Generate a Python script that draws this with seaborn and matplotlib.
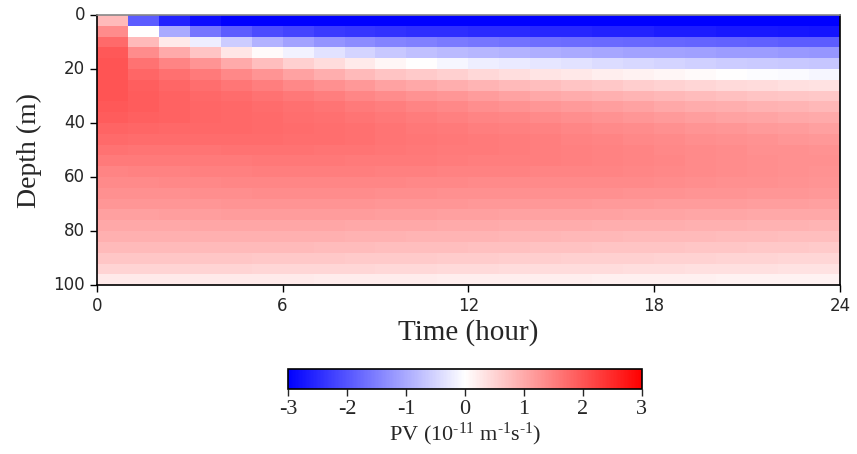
import numpy as np
import pandas as pd
import matplotlib
matplotlib.use("Agg")
import matplotlib.pyplot as plt
import seaborn as sns

# ---- data (PV, 1e-11 m^-1 s^-1) ----
hours = list(range(24))                      # column start hour
depths = [2, 6, 10, 14, 18, 22, 26, 30, 34, 38, 42, 46, 50,
          54, 58, 62, 66, 70, 74, 78, 82, 86, 90, 94, 98]  # row centre depth (m)
row_height = 4                               # m per row
x_ticks = [0, 6, 12, 18, 24]
y_ticks = [0, 20, 40, 60, 80, 100]
cbar_ticks = [-3, -2, -1, 0, 1, 2, 3]

pv_h00 = [0.8, 1.35, 1.75, 1.95, 2.0, 2.0, 2.0, 2.0, 1.95, 1.9, 1.82, 1.75, 1.65, 1.55, 1.45, 1.37, 1.3, 1.22, 1.12, 1.02, 0.92, 0.8, 0.66, 0.5, 0.25]
pv_h01 = [-1.9, 0.0, 0.8, 1.35, 1.65, 1.8, 1.88, 1.9, 1.9, 1.86, 1.8, 1.73, 1.64, 1.55, 1.46, 1.38, 1.3, 1.22, 1.12, 1.02, 0.92, 0.8, 0.66, 0.5, 0.25]
pv_h02 = [-2.6, -1.0, 0.25, 1.0, 1.45, 1.68, 1.8, 1.85, 1.85, 1.83, 1.78, 1.72, 1.64, 1.56, 1.47, 1.39, 1.31, 1.23, 1.13, 1.03, 0.93, 0.8, 0.66, 0.5, 0.25]
pv_h03 = [-2.85, -1.6, -0.2, 0.7, 1.25, 1.55, 1.7, 1.78, 1.8, 1.8, 1.77, 1.72, 1.64, 1.56, 1.48, 1.4, 1.32, 1.24, 1.14, 1.04, 0.93, 0.8, 0.66, 0.5, 0.25]
pv_h04 = [-3.0, -1.9, -0.6, 0.3, 1.0, 1.4, 1.6, 1.72, 1.77, 1.78, 1.76, 1.72, 1.65, 1.57, 1.49, 1.41, 1.33, 1.25, 1.15, 1.04, 0.93, 0.8, 0.66, 0.5, 0.25]
pv_h05 = [-3.0, -2.1, -0.9, 0.05, 0.75, 1.25, 1.5, 1.65, 1.72, 1.75, 1.75, 1.72, 1.66, 1.58, 1.5, 1.42, 1.34, 1.25, 1.15, 1.04, 0.93, 0.8, 0.65, 0.49, 0.25]
pv_h06 = [-3.0, -2.2, -1.1, -0.15, 0.55, 1.1, 1.4, 1.58, 1.67, 1.71, 1.72, 1.7, 1.65, 1.58, 1.5, 1.42, 1.34, 1.25, 1.15, 1.04, 0.93, 0.8, 0.65, 0.49, 0.24]
pv_h07 = [-3.0, -2.3, -1.25, -0.35, 0.4, 0.95, 1.3, 1.5, 1.62, 1.68, 1.7, 1.69, 1.64, 1.58, 1.5, 1.42, 1.34, 1.25, 1.15, 1.04, 0.92, 0.79, 0.64, 0.48, 0.23]
pv_h08 = [-3.0, -2.35, -1.35, -0.5, 0.25, 0.82, 1.2, 1.42, 1.56, 1.63, 1.67, 1.67, 1.63, 1.57, 1.5, 1.42, 1.34, 1.25, 1.15, 1.03, 0.91, 0.78, 0.63, 0.47, 0.23]
pv_h09 = [-3.0, -2.4, -1.45, -0.65, 0.1, 0.7, 1.1, 1.35, 1.5, 1.58, 1.63, 1.64, 1.61, 1.56, 1.49, 1.41, 1.33, 1.24, 1.14, 1.02, 0.9, 0.77, 0.62, 0.46, 0.22]
pv_h10 = [-3.0, -2.45, -1.5, -0.75, 0.0, 0.62, 1.02, 1.28, 1.44, 1.53, 1.59, 1.61, 1.59, 1.55, 1.48, 1.4, 1.32, 1.23, 1.13, 1.01, 0.89, 0.76, 0.61, 0.45, 0.22]
pv_h11 = [-3.0, -2.45, -1.55, -0.8, -0.1, 0.55, 0.95, 1.22, 1.39, 1.49, 1.56, 1.58, 1.57, 1.53, 1.47, 1.39, 1.31, 1.22, 1.12, 1.0, 0.88, 0.75, 0.6, 0.44, 0.21]
pv_h12 = [-3.0, -2.5, -1.6, -0.85, -0.2, 0.45, 0.88, 1.15, 1.33, 1.45, 1.52, 1.55, 1.55, 1.52, 1.46, 1.38, 1.3, 1.21, 1.11, 0.99, 0.87, 0.74, 0.59, 0.43, 0.2]
pv_h13 = [-3.0, -2.5, -1.65, -0.9, -0.25, 0.38, 0.82, 1.09, 1.28, 1.41, 1.49, 1.53, 1.53, 1.51, 1.46, 1.38, 1.3, 1.21, 1.1, 0.98, 0.86, 0.73, 0.58, 0.42, 0.2]
pv_h14 = [-3.0, -2.55, -1.7, -0.95, -0.3, 0.32, 0.76, 1.03, 1.23, 1.37, 1.46, 1.5, 1.51, 1.5, 1.45, 1.38, 1.3, 1.2, 1.09, 0.97, 0.85, 0.72, 0.57, 0.41, 0.19]
pv_h15 = [-3.0, -2.55, -1.72, -1.0, -0.35, 0.26, 0.7, 0.98, 1.18, 1.32, 1.42, 1.47, 1.49, 1.48, 1.44, 1.37, 1.29, 1.2, 1.09, 0.97, 0.84, 0.71, 0.56, 0.4, 0.19]
pv_h16 = [-3.0, -2.6, -1.75, -1.05, -0.4, 0.2, 0.64, 0.93, 1.13, 1.28, 1.38, 1.44, 1.46, 1.46, 1.43, 1.37, 1.29, 1.19, 1.08, 0.96, 0.83, 0.7, 0.55, 0.4, 0.18]
pv_h17 = [-3.0, -2.6, -1.78, -1.08, -0.45, 0.15, 0.58, 0.88, 1.08, 1.23, 1.34, 1.4, 1.43, 1.44, 1.41, 1.36, 1.28, 1.18, 1.07, 0.95, 0.82, 0.69, 0.54, 0.39, 0.18]
pv_h18 = [-3.0, -2.65, -1.8, -1.1, -0.5, 0.1, 0.53, 0.83, 1.03, 1.19, 1.3, 1.37, 1.4, 1.41, 1.39, 1.34, 1.27, 1.17, 1.06, 0.94, 0.81, 0.68, 0.53, 0.38, 0.17]
pv_h19 = [-3.0, -2.65, -1.82, -1.12, -0.55, 0.05, 0.48, 0.78, 0.98, 1.14, 1.26, 1.33, 1.37, 1.38, 1.37, 1.33, 1.26, 1.16, 1.05, 0.93, 0.8, 0.67, 0.52, 0.37, 0.17]
pv_h20 = [-3.0, -2.7, -1.85, -1.15, -0.6, 0.0, 0.43, 0.73, 0.94, 1.1, 1.22, 1.3, 1.34, 1.35, 1.34, 1.31, 1.25, 1.15, 1.04, 0.92, 0.79, 0.66, 0.51, 0.37, 0.16]
pv_h21 = [-3.0, -2.7, -1.87, -1.17, -0.62, -0.03, 0.4, 0.7, 0.9, 1.06, 1.18, 1.27, 1.31, 1.33, 1.32, 1.29, 1.24, 1.14, 1.03, 0.91, 0.78, 0.65, 0.5, 0.36, 0.16]
pv_h22 = [-3.0, -2.72, -1.9, -1.2, -0.64, -0.06, 0.37, 0.67, 0.87, 1.03, 1.15, 1.24, 1.29, 1.31, 1.3, 1.27, 1.22, 1.13, 1.02, 0.9, 0.77, 0.64, 0.49, 0.35, 0.15]
pv_h23 = [-3.0, -2.75, -1.92, -1.22, -0.66, -0.1, 0.34, 0.64, 0.84, 1.0, 1.12, 1.21, 1.27, 1.29, 1.28, 1.25, 1.2, 1.12, 1.01, 0.89, 0.76, 0.63, 0.48, 0.34, 0.15]

columns = [pv_h00, pv_h01, pv_h02, pv_h03, pv_h04, pv_h05, pv_h06, pv_h07,
           pv_h08, pv_h09, pv_h10, pv_h11, pv_h12, pv_h13, pv_h14, pv_h15,
           pv_h16, pv_h17, pv_h18, pv_h19, pv_h20, pv_h21, pv_h22, pv_h23]

df = pd.DataFrame(np.array(columns).T, index=depths, columns=hours)

# ---- figure ----
sns.set_style("white")
plt.rcParams["mathtext.fontset"] = "custom"
plt.rcParams["mathtext.rm"] = "Liberation Serif"
plt.rcParams["mathtext.it"] = "Liberation Serif:italic"

fig = plt.figure(figsize=(8.57, 4.54), dpi=100)
ax = fig.add_axes([0.113, 0.372, 0.867, 0.595])
cax = fig.add_axes([0.336, 0.143, 0.413, 0.044])

sns.heatmap(df, ax=ax, cmap="bwr", vmin=-3, vmax=3, cbar=True, cbar_ax=cax,
            cbar_kws={"orientation": "horizontal", "ticks": cbar_ticks})

ax.set_xticks(x_ticks)
ax.set_xticklabels([str(t) for t in x_ticks], rotation=0, fontsize=12,
                   family="DejaVu Sans")
ax.set_yticks([d / row_height for d in y_ticks])
ax.set_yticklabels([str(d) for d in y_ticks], rotation=0, fontsize=12,
                   family="DejaVu Sans")
ax.tick_params(axis="both", direction="out", length=5, width=1, color="black",
               bottom=True, left=True)
for s in ax.spines.values():
    s.set_visible(True)
    s.set_color("black")
    s.set_linewidth(1.2)
ax.spines["top"].set_color("#888888")

ax.set_xlabel("Time (hour)", family="Liberation Serif", fontsize=21, labelpad=3)
ax.set_ylabel("Depth (m)", family="Liberation Serif", fontsize=20, labelpad=8)

cb = ax.collections[0].colorbar
cb.outline.set_edgecolor("black")
cb.outline.set_linewidth(1.2)
cax.tick_params(axis="x", direction="out", length=5, width=1, labelsize=16, pad=3)
cax.set_xticklabels([str(t) for t in cbar_ticks])
for lab in cax.get_xticklabels():
    lab.set_family("Liberation Serif")
cb.set_label(r"PV (10$^{\text{-11}}$ m$^{\text{-1}}$s$^{\text{-1}}$)",
             family="Liberation Serif", fontsize=16, labelpad=1)

fig.savefig("out.png", dpi=100)
